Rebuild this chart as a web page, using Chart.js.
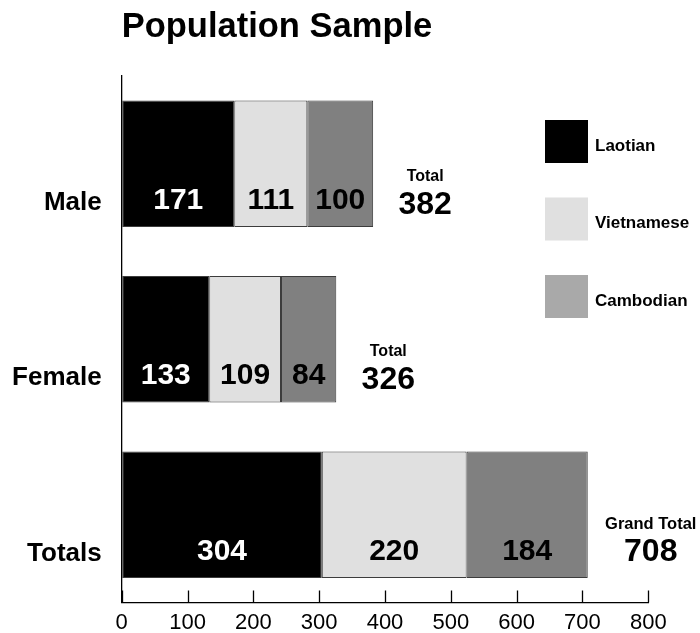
<!DOCTYPE html>
<html>
<head>
<meta charset="utf-8">
<title>Population Sample</title>
<script src="https://cdn.jsdelivr.net/npm/chart.js@4/dist/chart.umd.min.js"></script>
<style>
  html, body { margin: 0; padding: 0; background: #ffffff; }
  canvas { display: block; }
</style>
</head>
<body>
<canvas id="chart" width="700" height="633"></canvas>
<script>
// ---- data ----
const categories = ['Male', 'Female', 'Totals'];
const seriesNames = ['Laotian', 'Vietnamese', 'Cambodian'];
const laotian = [171, 133, 304];
const vietnamese = [111, 109, 220];
const cambodian = [100, 84, 184];
const xTickValues = [0, 100, 200, 300, 400, 500, 600, 700, 800];
const totalCaptions = ['Total', 'Total', 'Grand Total'];
const chartTitle = 'Population Sample';

// ---- styles ----
const FONT = "'Liberation Sans', Arial, Helvetica, sans-serif";
const barColors = ['#000000', '#e0e0e0', '#808080'];
const legendColors = ['#000000', '#e0e0e0', '#a9a9a9'];
const valueTextColors = ['#ffffff', '#000000', '#000000'];

Chart.defaults.font.family = FONT;
Chart.defaults.color = '#000000';

const seriesValues = [laotian, vietnamese, cambodian];

function makeDataset(i) {
  return {
    label: seriesNames[i],
    data: seriesValues[i],
    backgroundColor: barColors[i],
    borderColor: '#3c3c3c',
    borderWidth: 1,
    borderSkipped: false,
    barPercentage: 0.72,
    categoryPercentage: 1.0
  };
}

// white page behind the chart
const paperPlugin = {
  id: 'paper',
  beforeDraw(chart) {
    const c = chart.ctx;
    c.save();
    c.fillStyle = '#ffffff';
    c.fillRect(0, 0, chart.width, chart.height);
    c.restore();
  }
};

// short tick marks pointing up from the value axis
const inwardTicksPlugin = {
  id: 'inwardTicks',
  afterDatasetsDraw(chart) {
    const xs = chart.scales.x;
    const bottom = chart.chartArea.bottom;
    const c = chart.ctx;
    c.save();
    c.strokeStyle = '#000000';
    c.lineWidth = 1.3;
    c.beginPath();
    xs.ticks.forEach(t => {
      const px = Math.round(xs.getPixelForValue(t.value)) + 0.5;
      c.moveTo(px, bottom);
      c.lineTo(px, bottom - 12);
    });
    c.stroke();
    c.restore();
  }
};

// title, segment values, row totals and the legend
const annotationPlugin = {
  id: 'annotations',
  afterDraw(chart) {
    const c = chart.ctx;
    const xs = chart.scales.x;
    const area = chart.chartArea;
    c.save();

    // title
    c.fillStyle = '#000000';
    c.font = 'bold 34.5px ' + FONT;
    c.textAlign = 'left';
    c.textBaseline = 'alphabetic';
    c.fillText(chartTitle, area.left, 37);

    // values inside each segment
    c.font = 'bold 30px ' + FONT;
    c.textAlign = 'center';
    c.textBaseline = 'middle';
    chart.data.datasets.forEach((ds, di) => {
      const meta = chart.getDatasetMeta(di);
      meta.data.forEach((bar, i) => {
        const cx = (bar.x + bar.base) / 2;
        c.fillStyle = valueTextColors[di];
        c.fillText(String(ds.data[i]), cx, bar.y + 36.5);
      });
    });

    // totals to the right of each bar
    const lastMeta = chart.getDatasetMeta(chart.data.datasets.length - 1);
    categories.forEach((cat, i) => {
      const total = seriesValues.reduce((s, arr) => s + arr[i], 0);
      const endPx = xs.getPixelForValue(total);
      const cy = lastMeta.data[i].y;
      const grand = i === categories.length - 1;
      const cx = endPx + (grand ? 63 : 52);
      c.fillStyle = '#000000';
      c.textAlign = 'center';
      c.textBaseline = 'alphabetic';
      c.font = 'bold ' + (grand ? 16.5 : 16) + 'px ' + FONT;
      c.fillText(totalCaptions[i], cx, cy + (grand ? 14.5 : 17));
      c.font = 'bold 32px ' + FONT;
      c.fillText(String(total), cx, cy + (grand ? 46 : 50));
    });

    // legend
    const boxX = 545, boxTop = 120, box = 43, step = 77.5;
    c.font = 'bold 17px ' + FONT;
    c.textAlign = 'left';
    c.textBaseline = 'middle';
    chart.data.datasets.forEach((ds, di) => {
      const top = boxTop + di * step;
      c.fillStyle = legendColors[di];
      c.fillRect(boxX, top, box, box);
      c.fillStyle = '#000000';
      c.fillText(ds.label, boxX + 50, top + box / 2 + 4.5);
    });

    c.restore();
  }
};

new Chart(document.getElementById('chart'), {
  type: 'bar',
  data: {
    labels: categories,
    datasets: seriesValues.map((_, i) => makeDataset(i))
  },
  options: {
    indexAxis: 'y',
    responsive: false,
    animation: false,
    layout: { padding: { top: 76, right: 51.7, left: 0, bottom: 0 } },
    plugins: {
      legend: { display: false },
      title: { display: false },
      tooltip: { enabled: false }
    },
    scales: {
      x: {
        type: 'linear',
        stacked: true,
        min: xTickValues[0],
        max: xTickValues[xTickValues.length - 1],
        afterBuildTicks(scale) {
          scale.ticks = xTickValues.map(v => ({ value: v }));
        },
        afterFit(scale) {
          scale.height = 30.5;
          scale.paddingLeft = 0;
          scale.paddingRight = 0;
        },
        grid: { display: true, drawOnChartArea: false, drawTicks: false },
        border: { display: true, color: '#000000', width: 1.3 },
        ticks: {
          color: '#000000',
          padding: 7,
          maxRotation: 0,
          autoSkip: false,
          font: { size: 22, family: FONT }
        }
      },
      y: {
        type: 'category',
        stacked: true,
        offset: true,
        afterFit(scale) {
          scale.width = 121.7;
          scale.paddingTop = 0;
          scale.paddingBottom = 0;
        },
        grid: { display: false, drawTicks: false },
        border: { display: true, color: '#000000', width: 1.3 },
        ticks: {
          color: '#000000',
          padding: 20,
          labelOffset: 39,
          font: { size: 26, weight: 'bold', family: FONT }
        }
      }
    }
  },
  plugins: [paperPlugin, inwardTicksPlugin, annotationPlugin]
});
</script>
</body>
</html>
